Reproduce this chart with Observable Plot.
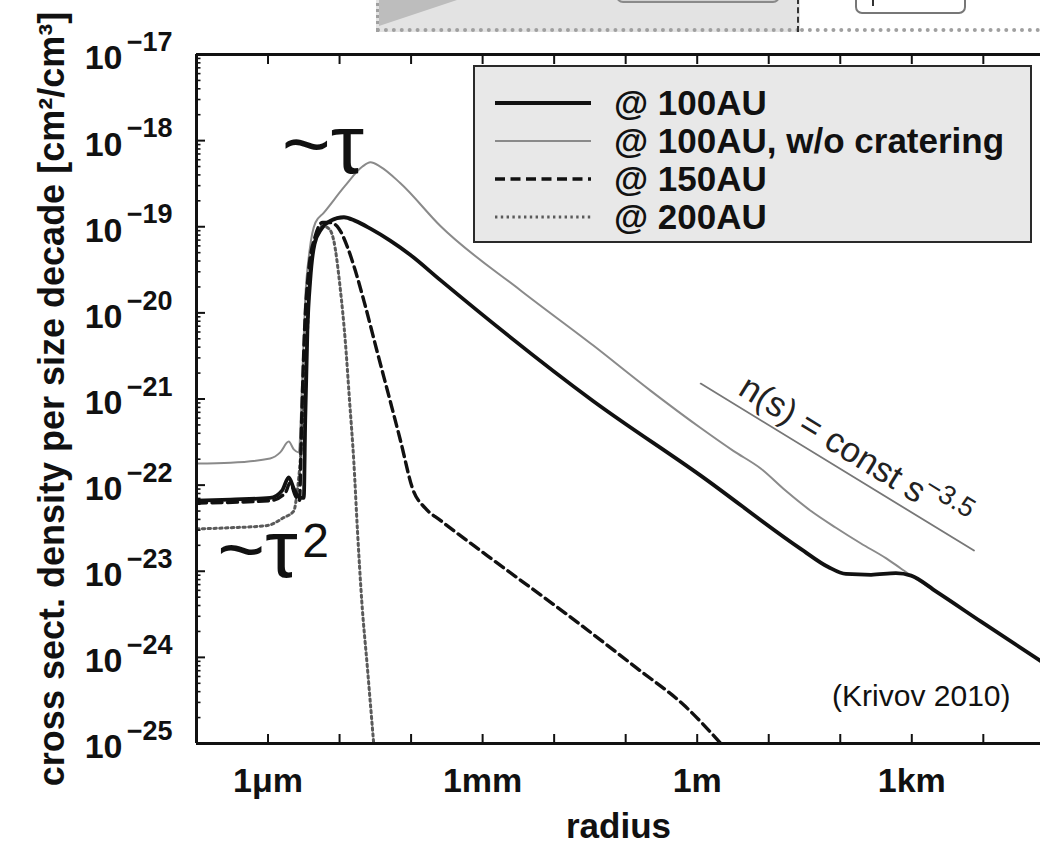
<!DOCTYPE html>
<html><head><meta charset="utf-8">
<script src="https://cdn.jsdelivr.net/npm/d3@7"></script>
<script src="https://cdn.jsdelivr.net/npm/@observablehq/plot@0.6"></script>
<style>
html,body{margin:0;padding:0;background:#fff;overflow:hidden}
#wrap{position:relative;width:1040px;height:846px;font-family:"Liberation Sans",Arial,Helvetica,sans-serif;overflow:hidden}
#wrap svg.main{position:absolute;left:0;top:0}
.deco{position:absolute;box-sizing:border-box}
.legend{position:absolute;left:473px;top:65px;width:559px;height:178px;box-sizing:border-box;border:2.5px solid #2a2a2a;background:#e8e8e8}
.row{position:absolute;left:0;height:36px;display:flex;align-items:center;font-weight:bold;font-size:35px;line-height:36px;color:#111;white-space:nowrap}
.row svg{width:120px;height:36px;flex:none}
.row span{margin-left:19px}
</style></head><body><div id="wrap"></div>
<script>
// ---------- data (radius in m, cross section density in cm^2/cm^3) ----------
const seriesNames = ["@ 100AU", "@ 100AU, w/o cratering", "@ 150AU", "@ 200AU"];

const r100 = [1.0e-7, 3.0e-7, 1.07e-6, 1.58e-6, 1.95e-6, 2.29e-6, 2.82e-6, 3.16e-6, 3.31e-6, 3.55e-6, 3.89e-6, 4.47e-6, 5.6e-6, 7.4e-6, 1.15e-5, 1.66e-5, 2.7e-5, 5.1e-5, 9.8e-5, 2.57e-4, 3.5e-2, 1.12, 28, 68, 120, 270, 600, 980, 2.2e3, 9.3e3, 6.3e4];
const s100 = [6.6e-23, 6.8e-23, 7.1e-23, 8.7e-23, 1.23e-22, 9.1e-23, 7.1e-23, 7.1e-23, 5.6e-22, 6.2e-21, 2.4e-20, 6.3e-20, 9.5e-20, 1.17e-19, 1.29e-19, 1.17e-19, 9.5e-20, 6.9e-20, 4.7e-20, 2.4e-20, 9.5e-22, 1.29e-22, 1.82e-23, 1.12e-23, 9.3e-24, 9.1e-24, 9.5e-24, 8.9e-24, 5.8e-24, 2.6e-24, 9.1e-25];

const r100nc = [1.0e-7, 3.0e-7, 1.07e-6, 1.48e-6, 1.95e-6, 2.29e-6, 2.69e-6, 3.0e-6, 3.3e-6, 3.8e-6, 4.6e-6, 6.0e-6, 1.2e-5, 2.09e-5, 2.7e-5, 3.7e-5, 7.1e-5, 2.57e-4, 3.4e-3, 3.5e-2, 0.22, 1.12, 3.2, 7.8, 17, 39, 87, 195, 440, 710, 980, 2.2e3, 9.3e3, 6.3e4];
const s100nc = [1.78e-22, 1.82e-22, 2.04e-22, 2.4e-22, 3.2e-22, 2.6e-22, 2.4e-22, 1.62e-21, 1.38e-20, 5.2e-20, 1.12e-19, 1.45e-19, 3.0e-19, 5.0e-19, 5.6e-19, 5.0e-19, 3.2e-19, 1.02e-19, 1.82e-20, 4.2e-21, 1.26e-21, 4.6e-22, 2.5e-22, 1.55e-22, 8.7e-23, 5.0e-23, 3.2e-23, 2.1e-23, 1.41e-23, 1.07e-23, 8.9e-24, 5.8e-24, 2.6e-24, 9.1e-25];

const r150 = [1.0e-7, 1.07e-6, 1.74e-6, 2.04e-6, 2.4e-6, 2.75e-6, 2.95e-6, 3.24e-6, 3.7e-6, 4.6e-6, 5.8e-6, 7.4e-6, 9.8e-6, 1.29e-5, 1.66e-5, 2.19e-5, 3.4e-5, 5.1e-5, 7.1e-5, 1.07e-4, 1.58e-4, 2.57e-4, 1.17e-3, 1.55e-2, 0.14, 0.68, 2.14];
const s150 = [6.2e-23, 6.6e-23, 8.1e-23, 1.07e-22, 7.6e-23, 6.6e-23, 5.6e-22, 6.2e-21, 3.1e-20, 7.9e-20, 1.12e-19, 1.12e-19, 9.5e-20, 5.8e-20, 3.1e-20, 1.38e-20, 3.4e-21, 9.5e-22, 3.3e-22, 8.7e-23, 5.4e-23, 3.9e-23, 1.51e-23, 3.1e-24, 7.6e-25, 2.7e-25, 1.0e-25];

const r200 = [1.0e-7, 3.0e-7, 9.8e-7, 1.66e-6, 2.29e-6, 2.57e-6, 2.82e-6, 3.16e-6, 3.55e-6, 3.89e-6, 4.9e-6, 5.8e-6, 7.1e-6, 8.3e-6, 1.02e-5, 1.2e-5, 1.38e-5, 1.58e-5, 1.78e-5, 2.04e-5, 2.45e-5, 3.0e-5];
const s200 = [3.1e-23, 3.2e-23, 3.4e-23, 4.2e-23, 5.0e-23, 8.7e-23, 1.91e-22, 9.5e-22, 5.8e-21, 3.4e-20, 8.3e-20, 1.02e-19, 9.5e-20, 6.9e-20, 1.95e-20, 4.8e-21, 9.5e-22, 1.91e-22, 2.95e-23, 4.6e-24, 7.6e-25, 1.0e-25];

// power-law guide n(s) = const s^-3.5
const refR = [1.12, 7.4e3];
const refS = [1.51e-21, 1.74e-23];

// axes
const xDomain = [1e-7, 6.3e4];
const yDomain = [1e-25, 1e-17];
const xTickValues = [1e-6, 1e-3, 1, 1e3];
const xTickLabels = ["1μm", "1mm", "1m", "1km"];
const yExponents = [-25, -24, -23, -22, -21, -20, -19, -18, -17];

// ---------- build ----------
const toRows = (rs, ss) => rs.map((r, i) => ({r, s: ss[i]}));
const xDecades = d3.range(-7, 5).map(k => Math.pow(10, k));
const yMajor = yExponents.map(e => Math.pow(10, e));
const yMinor = [];
for (let e = -25; e < -17; e++) for (let m = 2; m <= 9; m++) yMinor.push(m * Math.pow(10, e));

const styles = [
  {stroke: "#111", strokeWidth: 3.8},
  {stroke: "#8a8a8a", strokeWidth: 2},
  {stroke: "#111", strokeWidth: 3.4, strokeDasharray: "10,5.5"},
  {stroke: "#5a5a5a", strokeWidth: 3, strokeDasharray: "2.4,3.4"}
];
const font = "'Liberation Sans', Arial, Helvetica, sans-serif";
const slopeDeg = 31.5;

const plot = Plot.plot({
  width: 1040, height: 846,
  marginLeft: 196, marginRight: 0, marginTop: 54, marginBottom: 103,
  x: {type: "log", domain: xDomain, label: null},
  y: {type: "log", domain: yDomain, label: null},
  style: {fontFamily: font, color: "#111", background: "transparent", overflow: "visible"},
  marks: [
    Plot.line(toRows(r100nc, s100nc), {x: "r", y: "s", curve: "monotone-x", clip: true, ...styles[1]}),
    Plot.line(toRows(r200, s200), {x: "r", y: "s", curve: "monotone-x", clip: true, ...styles[3]}),
    Plot.line(toRows(r150, s150), {x: "r", y: "s", curve: "monotone-x", clip: true, ...styles[2]}),
    Plot.line(toRows(r100, s100), {x: "r", y: "s", curve: "monotone-x", clip: true, ...styles[0]}),
    Plot.line(toRows(refR, refS), {x: "r", y: "s", stroke: "#777", strokeWidth: 1.8}),
    // frame
    Plot.ruleX([xDomain[0]], {stroke: "#111", strokeWidth: 3}),
    Plot.ruleY(yDomain, {stroke: "#111", strokeWidth: 3}),
    // ticks (inward)
    Plot.axisX(xDecades, {anchor: "bottom", tickSize: -9, strokeWidth: 2, fill: "none", label: null}),
    Plot.axisX(xDecades, {anchor: "top", tickSize: -9, strokeWidth: 2, fill: "none", label: null}),
    Plot.axisY(yMajor, {anchor: "left", tickSize: -9, strokeWidth: 2, fill: "none", label: null}),
    Plot.axisY(yMinor, {anchor: "left", tickSize: -4.5, strokeWidth: 1.6, fill: "none", label: null}),
    // tick labels
    Plot.axisX(xTickValues, {anchor: "bottom", tickSize: 0, tickPadding: 24, tickFormat: d => xTickLabels[xTickValues.indexOf(d)], fontSize: 34, fontWeight: "bold", label: null}),
    Plot.axisY(yMajor, {anchor: "left", tickSize: 0, tickPadding: 74, tickFormat: () => "10", fontSize: 34, fontWeight: "bold", dy: 4, label: null}),
    Plot.axisY(yMajor, {anchor: "left", tickSize: 0, tickPadding: 24, tickFormat: d => "\u2212" + Math.abs(Math.round(Math.log10(d))), fontSize: 27, fontWeight: "bold", dy: -12, label: null}),
    // axis titles
    Plot.text(["radius"], {frameAnchor: "bottom", dy: 83, text: d => d, fontSize: 35, fontWeight: "bold", textAnchor: "middle", lineAnchor: "middle"}),
    Plot.text(["cross sect. density per size decade [cm²/cm³]"], {frameAnchor: "left", dx: -144, rotate: -90, text: d => d, fontSize: 36, fontWeight: "bold", textAnchor: "middle", lineAnchor: "middle"}),
    // annotations
    Plot.text([{r: 1.55e-6, s: 4.2e-19, t: "~τ"}], {x: "r", y: "s", text: "t", fontSize: 84, textAnchor: "start", lineAnchor: "bottom"}),
    Plot.text([{r: 1.95e-7, s: 8.5e-24, t: "~τ"}], {x: "r", y: "s", text: "t", fontSize: 82, textAnchor: "start", lineAnchor: "bottom"}),
    Plot.text([{r: 3.0e-6, s: 1.45e-23, t: "2"}], {x: "r", y: "s", text: "t", fontSize: 48, textAnchor: "start", lineAnchor: "bottom"}),
    Plot.text([{r: 3.57, s: 1.15e-21, t: "n(s) = const s"}], {x: "r", y: "s", text: "t", fontSize: 35, textAnchor: "start", lineAnchor: "bottom", rotate: slopeDeg, fill: "#222"}),
    Plot.text([{r: 1.43e3, s: 8.6e-23, t: "\u22123.5"}], {x: "r", y: "s", text: "t", fontSize: 27, textAnchor: "start", lineAnchor: "bottom", rotate: slopeDeg, fill: "#222"}),
    Plot.text([{r: 2.4e4, s: 2.75e-25, t: "(Krivov 2010)"}], {x: "r", y: "s", text: "t", fontSize: 30, textAnchor: "end", lineAnchor: "bottom"})
  ]
});
plot.classList.add("main");
const wrap = document.getElementById("wrap");
wrap.appendChild(plot);

// cropped piece of the neighbouring figure at the top
wrap.insertAdjacentHTML("beforeend", `
<div class="deco" style="left:376px;top:-4px;width:424px;height:36px;background:#e3e3e3;border-left:3px dotted #a0a0a0;border-bottom:4px dotted #a0a0a0"></div>
<div class="deco" style="left:800px;top:-4px;width:240px;height:36px;border-bottom:4px dotted #a0a0a0"></div>
<div class="deco" style="left:797px;top:-2px;width:0;height:34px;border-left:2.5px dashed #333"></div>
<div class="deco" style="left:379px;top:-4px;width:0;height:0;border-top:30px solid #bdbdbd;border-right:90px solid transparent"></div>
<div class="deco" style="left:616px;top:-20px;width:164px;height:23px;border:2px solid #8a8a8a;border-radius:7px;background:#d2d2d2"></div>
<div class="deco" style="left:855px;top:-12px;width:111px;height:26px;border:2.5px solid #777;border-radius:7px;background:#fff"></div>
<div class="deco" style="left:872px;top:0;width:0;height:6px;border-left:2px solid #333"></div>
`);

// legend
const legend = document.createElement("div");
legend.className = "legend";
const rowTops = [18, 56, 94, 132];
seriesNames.forEach((name, i) => {
  const st = styles[i];
  const row = document.createElement("div");
  row.className = "row";
  row.style.top = rowTops[i] + "px";
  row.innerHTML = `<svg viewBox="0 0 120 36"><line x1="20" x2="116" y1="18" y2="18" stroke="${st.stroke}" stroke-width="${st.strokeWidth}" ${st.strokeDasharray ? `stroke-dasharray="${st.strokeDasharray}"` : ""}/></svg><span></span>`;
  row.querySelector("span").textContent = name;
  legend.appendChild(row);
});
wrap.appendChild(legend);
</script>
</body></html>
